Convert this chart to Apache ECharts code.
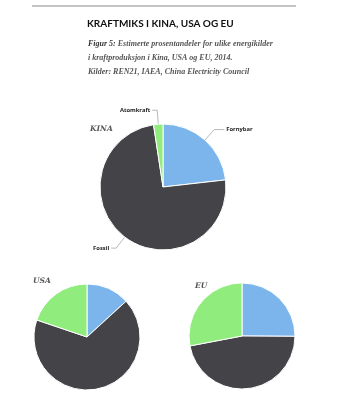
<!DOCTYPE html>
<html><head><meta charset="utf-8">
<script src="https://cdn.jsdelivr.net/npm/echarts@6/dist/echarts.min.js"></script>
<style>html,body{margin:0;padding:0;background:#fff}#c{width:337px;height:417px}</style>
</head><body><div id="c"></div>
<script>
const categories = ['Fornybar', 'Fossil', 'Atomkraft'];
const kina = [23.2, 74.4, 2.4];
const usa = [13.2, 67.0, 19.8];
const eu = [25.1, 46.9, 28.0];
const regionNames = ['KINA', 'USA', 'EU'];
const colors = ['#7cb5ec', '#434348', '#90ed7d'];

const chart = echarts.init(document.getElementById('c'));
const mk = (vals) => categories.map((n, i) => ({ name: n, value: vals[i] }));
const base = {
  type: 'pie', startAngle: 90, clockwise: true,
  itemStyle: { borderColor: '#fff', borderWidth: 1 },
  emphasis: { disabled: true }, silent: true
};
const regionStyle = { fontFamily: 'DejaVu Serif', fontStyle: 'italic', fontWeight: 'bold', fontSize: 7.5, color: '#555' };
const kinaData = mk(kina);
kinaData[0].labelLine = { length2: 10 };
chart.setOption({
  animation: false,
  color: colors,
  title: [
    { text: 'KRAFTMIKS I KINA, USA OG EU', left: 82, top: 14, padding: 5,
      textStyle: { fontFamily: 'Lato', fontWeight: 'bold', fontSize: 10, color: '#111' } },
    { text: '{b|Figur 5:} Estimerte prosentandeler for ulike energikilder\ni kraftproduksjon i Kina, USA og EU, 2014.\nKilder: REN21, IAEA, China Electricity Council',
      left: 83, top: 32,
      textStyle: { fontFamily: 'Liberation Serif', fontStyle: 'italic', fontSize: 8, color: '#555', lineHeight: 13.8,
        rich: { b: { fontFamily: 'Liberation Serif', fontStyle: 'italic', fontWeight: 'bold', fontSize: 8, color: '#333' } } } },
    { text: regionNames[0], left: 85, top: 120, textStyle: regionStyle },
    { text: regionNames[1], left: 28, top: 272, textStyle: regionStyle },
    { text: regionNames[2], left: 190, top: 277, textStyle: regionStyle }
  ],
  graphic: [
    { type: 'line', shape: { x1: 32, y1: 6, x2: 296, y2: 6 }, style: { stroke: '#888', lineWidth: 1 } }
  ],
  series: [
    Object.assign({}, base, {
      center: [163, 187], radius: 63, data: kinaData,
      label: { show: true, position: 'outside', fontSize: 5.8, fontWeight: 'bold', color: '#222', fontFamily: 'Open Sans', distanceToLabelLine: 2 },
      labelLine: { show: true, length: 14, length2: 5, lineStyle: { color: '#999', width: 0.7 } }
    }),
    Object.assign({}, base, { center: [87, 337], radius: 53, data: mk(usa), label: { show: false }, labelLine: { show: false } }),
    Object.assign({}, base, { center: [242, 336], radius: 53, data: mk(eu), label: { show: false }, labelLine: { show: false } })
  ]
});
</script></body></html>
